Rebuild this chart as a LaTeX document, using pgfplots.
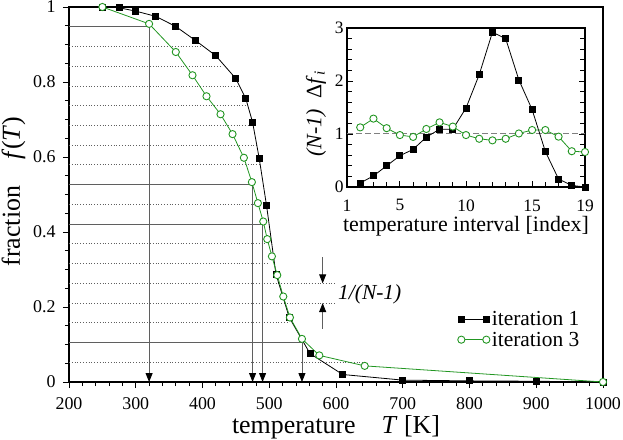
\documentclass[border=0pt]{standalone}
\usepackage{fontspec}
\setmainfont{Liberation Serif}
\usepackage{pgfplots}
\pgfplotsset{compat=1.18}
\usetikzlibrary{arrows.meta}

\definecolor{grn}{RGB}{34,150,34}
\definecolor{annot}{RGB}{95,95,95}
\newcommand{\fs}[1]{\fontsize{#1}{#1}\selectfont}

% iteration 1 and 3, cumulative fraction vs temperature
\pgfplotstableread{
T f
250 1.000
275 0.998
300 0.989
330 0.975
360 0.948
390 0.910
420 0.870
450 0.809
465 0.755
475 0.693
485 0.596
496 0.470
510 0.288
530 0.172
561 0.076
610 0.020
700 0.005
800 0.003
900 0.002
1000 0.000
}\iterA
\pgfplotstableread{
T f
250 1.000
320 0.955
360 0.880
385 0.818
406 0.762
427 0.714
445 0.661
462 0.598
474 0.533
483 0.477
491 0.428
497 0.381
504 0.335
512 0.285
521 0.228
531 0.172
549 0.115
575 0.071
643 0.043
1000 0.000
}\iterC
% inset: (N-1) Delta f_i per interval
\pgfplotstableread{
i a c
2 0.075 1.125
3 0.21 1.29
4 0.40 1.11
5 0.59 0.98
6 0.71 0.945
7 0.94 1.095
8 1.09 1.22
9 1.09 1.14
10 1.49 0.98
11 2.12 0.91
12 2.92 0.88
13 2.80 0.91
14 2.02 1.01
15 1.46 1.075
16 0.67 1.075
17 0.15 0.95
18 0.03 0.675
19 0.00 0.66
}\inset

\pgfplotsset{
  itA/.style={black, line width=0.8bp, mark=square*, mark size=3bp, mark options={solid}},
  itC/.style={grn, line width=0.8bp, mark=*, mark size=3.6bp,
    mark options={solid, fill=white, line width=0.9bp}},
}
\tikzset{
  levdot/.style={annot, dotted, line width=0.8bp},
  levsol/.style={annot, line width=0.9bp},
  levarr/.style={annot, line width=0.9bp, -{Triangle[length=9bp,width=7bp,color=black]}},
}

\begin{document}
\begin{tikzpicture}
\useasboundingbox (-69bp,-58bp) rectangle (554bp,382bp);
\begin{axis}[
  at={(0,0)}, anchor=south west,
  width=534bp, height=375bp, scale only axis,
  xmin=200, xmax=1000, ymin=0, ymax=1,
  xtick={200,300,400,500,600,700,800,900,1000},
  ytick={0,0.2,0.4,0.6,0.8,1},
  yticklabels={0,0.2,0.4,0.6,0.8,1},
  minor x tick num=4, minor y tick num=3,
  tick align=outside, tick pos=left,
  major tick length=6bp, minor tick length=4bp,
  axis line style={line width=1.3bp},
  every tick/.style={black, line width=0.8bp},
  /pgf/number format/assume math mode=true,
  /pgf/number format/set thousands separator={},
  tick label style={font=\fs{18}},
  xticklabel style={yshift=-6bp},
  yticklabel style={xshift=-4bp},
  label style={font=\fs{26}},
  xlabel={temperature\quad\textit{T} [K]},
  ylabel={fraction\quad\textit{f}(\textit{T})},
  xlabel style={at={(axis description cs:0.5,-0.136)}, anchor=base},
  ylabel style={at={(axis description cs:-0.104,0.508)}, anchor=center},
  legend style={draw=none, fill=none, at={(axis description cs:0.722,0.2)},
    anchor=north west, font=\fs{21.5}, row sep=1bp,
    /tikz/every even column/.append style={column sep=4bp}},
  legend cell align=left,
  legend image code/.code={\draw[#1] plot coordinates {(0bp,0bp) (25bp,0bp)};},
]
% dotted levels k/19
\draw[levdot] (axis cs:200,0.05263) -- (axis cs:641,0.05263);
\draw[levdot] (axis cs:200,0.15789) -- (axis cs:527,0.15789);
\draw[levdot] (axis cs:200,0.21053) -- (axis cs:601,0.21053);
\draw[levdot] (axis cs:200,0.26316) -- (axis cs:601,0.26316);
\draw[levdot] (axis cs:200,0.31579) -- (axis cs:499,0.31579);
\draw[levdot] (axis cs:200,0.36842) -- (axis cs:494,0.36842);
\draw[levdot] (axis cs:200,0.47368) -- (axis cs:481,0.47368);
\draw[levdot] (axis cs:200,0.57895) -- (axis cs:486,0.57895);
\draw[levdot] (axis cs:200,0.63158) -- (axis cs:481,0.63158);
\draw[levdot] (axis cs:200,0.68421) -- (axis cs:474,0.68421);
\draw[levdot] (axis cs:200,0.73684) -- (axis cs:466,0.73684);
\draw[levdot] (axis cs:200,0.78947) -- (axis cs:453,0.78947);
\draw[levdot] (axis cs:200,0.84211) -- (axis cs:430,0.84211);
\draw[levdot] (axis cs:200,0.89474) -- (axis cs:404,0.89474);
% solid levels with arrows down to the axis
\draw[levsol] (axis cs:200,0.94737) -- (axis cs:320,0.94737);
\draw[levarr] (axis cs:320,0.94737) -- (axis cs:320,0);
\draw[levsol] (axis cs:200,0.52632) -- (axis cs:475,0.52632);
\draw[levarr] (axis cs:475,0.52632) -- (axis cs:475,0);
\draw[levsol] (axis cs:200,0.42105) -- (axis cs:490,0.42105);
\draw[levarr] (axis cs:490,0.42105) -- (axis cs:490,0);
\draw[levsol] (axis cs:200,0.10526) -- (axis cs:549,0.10526);
\draw[levarr] (axis cs:549,0.10526) -- (axis cs:549,0);
% 1/(N-1) marker
\draw[levarr] (axis cs:580,0.333) -- (axis cs:580,0.26316);
\draw[levarr] (axis cs:580,0.142) -- (axis cs:580,0.21053);
\node[anchor=west, font=\fs{21.5}\itshape, inner sep=0pt] at (axis cs:603,0.234) {1/(N-1)};

\addplot[itA] table[x=T, y=f] {\iterA};
\addplot[itC] table[x=T, y=f] {\iterC};
\legend{iteration 1, iteration 3}
\end{axis}

\begin{axis}[
  at={(278bp,195bp)}, anchor=south west,
  width=238bp, height=159bp, scale only axis,
  axis background/.style={fill=white},
  xmin=1, xmax=19, ymin=0, ymax=3,
  xtick={1,5,10,15,19}, minor xtick={2,3,4,6,7,8,9,11,12,13,14,16,17,18},
  ytick={0,1,2,3}, minor y tick num=4,
  tick align=inside, xtick pos=left, ytick pos=both, yticklabel pos=left,
  major tick length=6bp, minor tick length=5bp,
  axis line style={line width=1.3bp},
  every tick/.style={black, line width=0.8bp},
  /pgf/number format/assume math mode=true,
  tick label style={font=\fs{17.5}},
  xticklabel style={yshift=-9bp},
  label style={font=\fs{22}},
  xlabel={temperature interval [index]},
  ylabel={\textit{(N-1)}\enspace Δ\textit{f}\textsubscript{\textit{i}}},
  xlabel style={at={(axis description cs:0.5,-0.277)}, anchor=base},
  ylabel style={at={(axis description cs:-0.13,0.46)}, anchor=center},
]
\addplot[gray, dashed, line width=1bp, dash pattern=on 6bp off 3bp, forget plot] coordinates {(1,1) (19,1)};
\addplot[itA] table[x=i, y=a] {\inset};
\addplot[itC] table[x=i, y=c] {\inset};
\end{axis}
\end{tikzpicture}
\end{document}
